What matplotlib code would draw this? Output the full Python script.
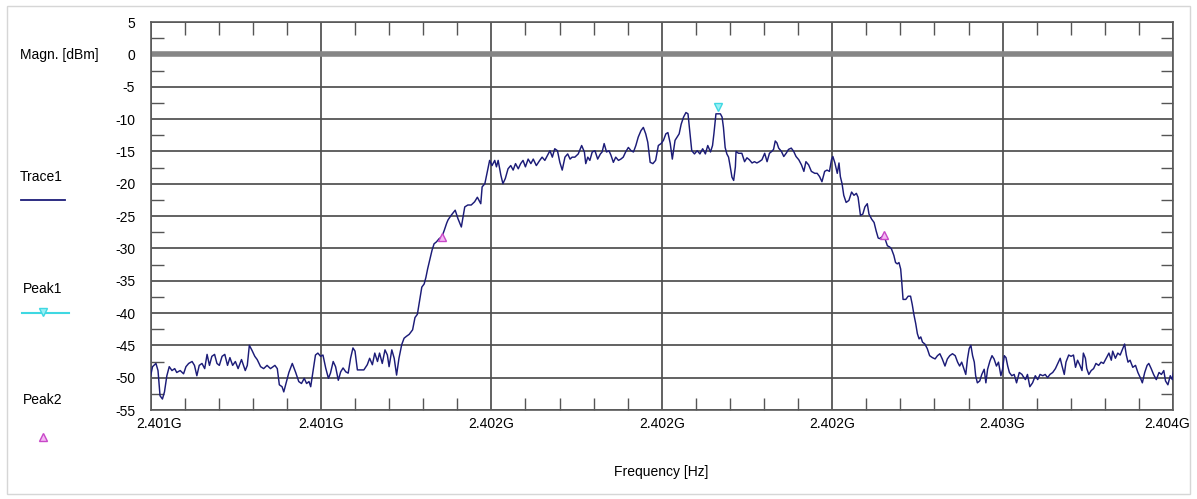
import matplotlib.pyplot as plt
import matplotlib.transforms as mtransforms
from matplotlib.lines import Line2D
from matplotlib.patches import Rectangle

plt.rcParams['font.family'] = ['Liberation Sans', 'DejaVu Sans']

# sweep start (Hz); trace points are kHz offsets from it
f_start = 2.401e9

trace_khz = [
    0, 6, 16, 22, 28, 35, 41, 48, 55, 63, 71, 77, 87, 97, 104, 112, 122, 129, 136, 143,
    151, 159, 166, 173, 180, 188, 195, 202, 210, 218, 226, 233, 241, 249, 257, 267, 278, 284, 290, 298,
    306, 313, 323, 332, 342, 352, 365, 372, 378, 386, 391, 398, 406, 416, 426, 435,
    443, 451, 458, 465, 470, 476, 484, 491, 499, 506, 514, 522, 528, 536, 543, 551, 558, 565, 573, 580,
    587, 594, 600, 607, 617, 626, 636, 643, 651, 658, 666, 672, 680, 688, 695, 700, 708, 715, 722, 729,
    737, 744, 751, 759, 769, 776, 783, 788, 796, 803, 808, 813, 820, 826, 832, 839, 847, 855, 862, 869,
    873, 882, 894, 902, 912, 922, 931, 941, 951, 959, 969, 973, 981, 988, 995, 1002, 1010, 1015, 1020, 1028,
    1034, 1041, 1049, 1057, 1064, 1071, 1079, 1086, 1093, 1100, 1108, 1116, 1123, 1132, 1142, 1149, 1157, 1165, 1172, 1179,
    1186, 1194, 1201, 1208, 1216, 1224, 1231, 1237, 1245, 1255, 1265, 1273, 1277, 1283, 1289, 1296, 1304, 1312, 1320,
    1325, 1331, 1338, 1345, 1351, 1358, 1365, 1373, 1380, 1387, 1394, 1402, 1410, 1417, 1424, 1431, 1439, 1446, 1453, 1459,
    1466, 1474, 1482, 1490, 1498, 1505, 1512, 1518, 1525, 1531, 1539, 1545, 1551, 1557, 1564, 1571, 1577, 1582, 1588, 1596,
    1604, 1612, 1620, 1628, 1635, 1643, 1649, 1653, 1659, 1665, 1672, 1677, 1681, 1686, 1691, 1696, 1701, 1706, 1711, 1716,
    1718, 1725, 1735, 1743, 1750, 1757, 1765, 1772, 1779, 1786, 1794, 1802, 1809, 1816, 1823, 1828, 1833, 1838, 1843, 1851,
    1858, 1865, 1872, 1880, 1887, 1894, 1902, 1910, 1917, 1923, 1931, 1939, 1949, 1956, 1963, 1970, 1978, 1985, 1992, 1998,
    2002, 2008, 2015, 2020, 2024, 2029, 2034, 2041, 2049, 2057, 2064, 2071, 2076, 2083, 2090, 2096, 2103, 2108, 2116, 2123,
    2129, 2135,
    2139, 2147, 2155, 2162, 2169, 2174, 2181, 2186, 2191, 2196, 2201, 2204, 2208, 2216, 2223, 2230, 2235, 2240, 2245, 2250,
    2255, 2260, 2265, 2272, 2279, 2286, 2294, 2302, 2309, 2316, 2323, 2331, 2338, 2345, 2353, 2361, 2368, 2374, 2380, 2387,
    2392, 2397, 2402, 2407, 2412, 2417, 2421, 2426, 2433, 2439, 2446, 2451, 2456, 2463, 2469, 2475, 2482, 2488, 2495, 2500,
    2505, 2510, 2515, 2520, 2527, 2534, 2541, 2549, 2557,
    2559, 2567, 2573, 2580, 2588, 2596, 2603, 2610, 2618, 2625, 2632, 2639, 2647, 2655, 2662, 2669, 2674, 2681, 2686, 2694,
    2701, 2708, 2714, 2720, 2727, 2733, 2737, 2743, 2747, 2753, 2760, 2767, 2774, 2782, 2789, 2796, 2804, 2812, 2819, 2823,
    2831, 2838, 2845, 2851, 2858, 2863, 2868, 2874, 2882, 2890, 2897, 2904, 2910, 2917, 2924, 2929, 2936, 2943, 2951, 2959,
    2966, 2973, 2978, 2985, 2992, 2998, 3004,
]

trace_dbm = [
    -49.8, -48.3, -47.8, -48.9, -52.8, -53.3, -52.2, -49.7, -48.3, -48.9, -48.6, -49.2, -48.9, -49.4, -48.3, -47.8, -47.5, -48.1, -49.7, -48.1,
    -47.8, -48.6, -46.4, -48.1, -46.7, -46.4, -47.8, -48.1, -46.7, -46.4, -48.1, -46.9, -48.1, -47.5, -48.6, -47.2, -48.9, -48.1, -45.0, -45.8,
    -46.7, -47.2, -48.3, -48.6, -48.1, -48.6, -48.1, -48.6, -51.1, -51.4, -52.2, -50.8, -49.2, -47.8, -49.2, -50.6,
    -50.9, -50.1, -50.9, -50.6, -51.4, -49.3, -46.5, -46.2, -46.7, -46.5, -48.5, -50.1, -49.3, -47.5, -48.3, -50.4, -49.1, -48.5, -49.1, -49.3,
    -47.0, -45.4, -45.9, -48.8, -48.8, -48.8, -48.0, -47.0, -48.0, -46.2, -47.5, -46.2, -47.8, -45.7, -46.5, -48.3, -45.7, -47.0, -49.6, -47.0,
    -44.9, -43.9, -43.6, -43.3, -42.6, -40.7, -40.2, -38.6, -36.0, -35.5, -34.5, -33.2, -31.6, -30.3, -29.3, -29.0, -28.5, -28.2, -27.2, -26.1,
    -25.6, -24.9, -24.1, -25.4, -26.7, -23.6, -23.3, -23.3, -22.8, -22.1, -23.1, -20.5, -20.0, -18.2, -16.4, -17.2, -16.4, -17.4, -16.4, -18.7,
    -20.0, -19.2, -17.7, -17.2, -17.9, -16.9, -17.7, -16.9, -16.4, -17.4, -16.2, -16.9, -16.2, -17.2, -16.4, -15.9, -16.4, -15.6, -14.9, -15.9,
    -14.6, -14.9, -16.7, -17.9, -15.9, -15.4, -16.2, -15.9, -15.9, -15.4, -14.1, -15.1, -16.9, -15.9, -16.4, -15.1, -14.9, -16.2, -15.4,
    -15.1, -13.8, -15.1, -14.9, -15.6, -16.7, -15.9, -16.4, -16.2, -15.9, -15.1, -14.4, -14.9, -15.1, -14.1, -12.8, -11.8, -11.3, -12.3, -13.6,
    -16.7, -16.9, -16.4, -14.1, -13.8, -13.3, -12.3, -12.1, -13.8, -16.2, -13.3, -12.8, -12.3, -10.8, -9.7, -9.0, -9.2, -11.8, -14.9, -15.4,
    -14.9, -15.4, -14.6, -15.4, -14.1, -15.1, -14.1, -12.3, -9.2, -9.2, -9.2, -9.7, -11.3, -14.4, -15.4, -15.9, -17.4, -19.0, -19.5, -17.4,
    -15.0, -15.3, -15.3, -16.6, -16.0, -16.3, -16.8, -16.6, -16.8, -16.6, -16.3, -15.3, -16.6, -15.3, -15.0, -14.7, -13.4, -13.7, -14.5, -15.0,
    -15.8, -15.3, -14.7, -14.5, -15.0, -15.8, -16.3, -17.1, -18.1, -16.6, -17.1, -18.1, -18.4, -18.4, -18.9, -19.7, -18.1, -17.9, -18.1, -16.3,
    -15.8, -16.8, -18.4, -16.8, -18.9, -20.0, -21.8, -22.9, -22.6, -21.3, -21.8, -21.5, -22.1, -24.9, -24.7, -23.6, -23.1, -24.7, -25.5, -26.0,
    -27.3, -28.4,
    -28.5, -28.2, -28.5, -29.6, -29.8, -30.1, -31.1, -32.2, -32.4, -32.2, -33.2, -35.1, -37.9, -37.9, -37.4, -37.4, -38.7, -40.3, -41.6, -43.2,
    -44.0, -43.7, -44.5, -44.8, -45.5, -46.6, -46.9, -47.1, -46.6, -46.3, -47.1, -48.2, -47.1, -46.6, -46.3, -46.6, -47.6, -48.2, -47.6, -48.7,
    -49.5, -47.1, -45.5, -45.0, -46.6, -47.6, -49.7, -50.8, -50.5, -49.5, -48.7, -50.8, -48.7, -47.4, -46.6, -47.1, -48.2, -47.6, -49.7, -48.7,
    -46.6, -46.9, -48.2, -49.2, -49.7, -49.5, -50.8, -49.2, -49.5,
    -49.7, -50.3, -49.5, -51.4, -50.8, -49.7, -50.3, -49.5, -49.7, -49.5, -50.0, -49.5, -49.2, -48.6, -47.8, -47.0, -48.1, -49.5, -47.6, -46.5,
    -46.7, -46.5, -48.4, -47.3, -48.1, -48.9, -46.2, -47.0, -48.6, -49.5, -48.9, -48.6, -47.8, -48.1, -47.6, -47.8, -47.0, -46.2, -47.3, -45.9,
    -47.0, -46.2, -46.5, -45.7, -44.8, -46.5, -47.6, -47.3, -48.4, -48.1, -49.2, -50.0, -50.8, -49.2, -48.1, -47.8, -48.6, -49.5, -50.3, -49.2,
    -49.5, -48.9, -50.5, -51.1, -49.7, -50.3, -48.1,
]

peak1_khz = [1665]
peak1_dbm = [-8.1]
peak2_khz = [856, 2153]
peak2_dbm = [-28.2, -28.0]

xtick_khz = [0, 500, 1000, 1500, 2000, 2500, 3000]
xtick_labels = ['2.401G', '2.401G', '2.402G', '2.402G', '2.402G', '2.403G', '2.404G']
ytick_vals = [5, 0, -5, -10, -15, -20, -25, -30, -35, -40, -45, -50, -55]

trace_col = '#1c1c78'
grid_col = '#4e4e4e'
peak1_col = '#3fd8e2'
peak2_col = '#c848c8'

W, H = 1197, 499
fig = plt.figure(figsize=(W / 100, H / 100), dpi=100)
ax = fig.add_axes([150.5 / W, 1 - 410 / H, (1173 - 150.5) / W, (410 - 22) / H])

freq = [f_start + k * 1e3 for k in trace_khz]
ax.plot(freq, trace_dbm, color=trace_col, lw=1.05, zorder=3)
ax.plot([f_start + k * 1e3 for k in peak1_khz], peak1_dbm, linestyle='none', marker='v',
        ms=6, mfc='#9af0f5', mec=peak1_col, mew=1, zorder=4)
ax.plot([f_start + k * 1e3 for k in peak2_khz], peak2_dbm, linestyle='none', marker='^',
        ms=6, mfc='#f4b8f4', mec=peak2_col, mew=1, zorder=4)

ax.axhline(0, color='#868686', lw=4, zorder=2)

ax.set_xlim(f_start, f_start + 3e6)
ax.set_ylim(-55, 5)
ax.set_xticks([f_start + k * 1e3 for k in xtick_khz])
ax.set_xticklabels(xtick_labels, fontsize=10)
ax.set_xticks([f_start + k * 1e3 for k in range(0, 3001, 100)], minor=True)
ax.set_yticks(ytick_vals)
ax.set_yticklabels([str(v) for v in ytick_vals], fontsize=10)
ax.set_yticks([v - 2.5 for v in ytick_vals[:-1]], minor=True)

ax.grid(True, which='major', color=grid_col, lw=1.25, zorder=1)
ax.set_axisbelow(True)
ax.tick_params(which='both', direction='in', top=True, right=True, colors='#555555', labelcolor='black')
ax.tick_params(which='major', length=0)
ax.tick_params(which='minor', length=9, width=1)
ax.tick_params(axis='y', which='major', pad=11)
ax.tick_params(axis='x', which='major', pad=5)
for s in ax.spines.values():
    s.set_color('#5a5a5a')
    s.set_linewidth(1.2)

# nudge end labels like the analyzer does
lbls = ax.get_xticklabels()
lbls[0].set_transform(lbls[0].get_transform() + mtransforms.ScaledTranslation(9 / 100, 0, fig.dpi_scale_trans))
lbls[-1].set_transform(lbls[-1].get_transform() + mtransforms.ScaledTranslation(-6 / 100, 0, fig.dpi_scale_trans))

fig.text(661 / W, 1 - 472 / H, 'Frequency [Hz]', ha='center', va='center', fontsize=10)
fig.text(20 / W, 1 - 55 / H, 'Magn. [dBm]', ha='left', va='center', fontsize=10)

# left side legend
fig.text(20 / W, 1 - 177 / H, 'Trace1', ha='left', va='center', fontsize=10)
fig.add_artist(Line2D([21 / W, 65 / W], [1 - 200 / H] * 2, transform=fig.transFigure, color=trace_col, lw=1.3))
fig.text(23 / W, 1 - 289 / H, 'Peak1', ha='left', va='center', fontsize=10)
fig.add_artist(Line2D([22 / W, 69 / W], [1 - 312.5 / H] * 2, transform=fig.transFigure, color=peak1_col, lw=1.5))
fig.add_artist(Line2D([43 / W], [1 - 312 / H], transform=fig.transFigure, marker='v', ms=6,
                      mfc='#9af0f5', mec=peak1_col, linestyle='none'))
fig.text(23 / W, 1 - 400 / H, 'Peak2', ha='left', va='center', fontsize=10)
fig.add_artist(Line2D([43 / W], [1 - 437 / H], transform=fig.transFigure, marker='^', ms=6,
                      mfc='#f4b8f4', mec=peak2_col, linestyle='none'))

fig.add_artist(Rectangle((7 / W, 5 / H), 1 - 14 / W, 1 - 11 / H, transform=fig.transFigure,
                         fill=False, ec='#d6d6d6', lw=1))

fig.savefig('out.png', dpi=100)
